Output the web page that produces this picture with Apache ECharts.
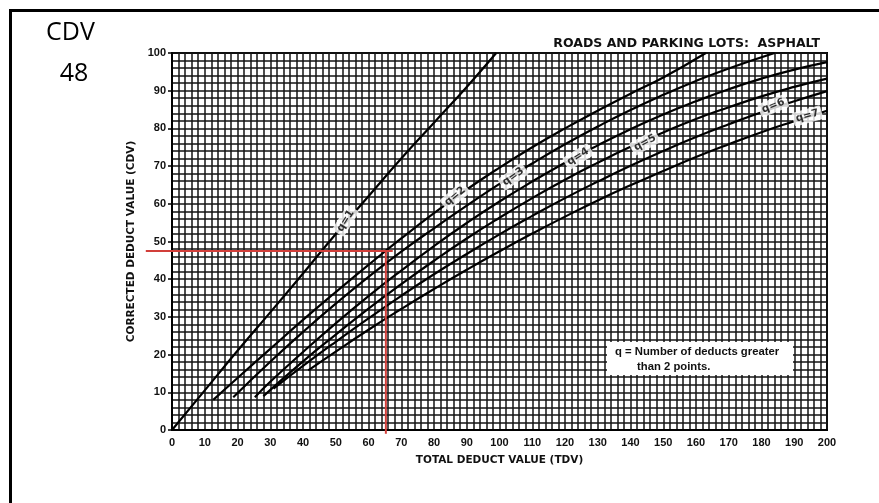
<!DOCTYPE html>
<html><head><meta charset="utf-8">
<script src="https://cdn.jsdelivr.net/npm/echarts@6/dist/echarts.min.js"></script>
<style>html,body{margin:0;padding:0;background:#fff}#c{width:879px;height:503px}</style>
</head><body><div id="c"></div>
<script>
// ---- data (TDV, CDV) ----
const curveNames = ['q=1','q=2','q=3','q=4','q=5','q=6','q=7'];
const q1 = [[0,0],[10,10.5],[20,21],[30,31.2],[40,41.5],[50,52],[60,62],[70,72],[80,81.5],[90,91],[99,100]];
const q2 = [[12.6,8],[20,13.8],[30,21.5],[40,29.2],[50,36.6],[60,43.8],[70,50.8],[80,57.5],[90,63.8],[100,69.6],[110,75],[120,80],[130,84.7],[140,89.2],[150,93.5],[163,100]];
const q3 = [[18.7,8.7],[30,18.1],[40,26],[50,33.5],[60,40.6],[70,47.3],[80,53.5],[90,59.5],[100,65.3],[110,70.7],[120,75.8],[130,80.5],[140,84.9],[150,88.9],[160,92.6],[170,95.9],[184,100]];
const q4 = [[25.3,8.7],[30,12.8],[40,20.7],[50,28.3],[60,35.5],[70,42.3],[80,48.8],[90,54.9],[100,60.6],[110,65.9],[120,70.9],[130,75.5],[140,79.8],[150,83.7],[160,87.2],[170,90.4],[180,93.2],[190,95.6],[200,97.6]];
const q5 = [[27.9,9],[40,18.2],[50,25.3],[60,32.2],[70,38.7],[80,44.9],[90,50.8],[100,56.3],[110,61.5],[120,66.4],[130,70.9],[140,75.1],[150,78.9],[160,82.5],[170,85.6],[180,88.5],[190,91],[200,93.2]];
const q6 = [[31,11],[40,17],[50,23.4],[60,29.6],[70,35.6],[80,41.3],[90,46.7],[100,51.9],[110,56.8],[120,61.5],[130,65.9],[140,70.1],[150,74],[160,77.7],[170,81.1],[180,84.3],[190,87.2],[200,89.9]];
const q7 = [[41.6,15.8],[50,20.8],[60,26.6],[70,32.1],[80,37.4],[90,42.5],[100,47.4],[110,52.1],[120,56.6],[130,60.9],[140,64.9],[150,68.7],[160,72.4],[170,75.8],[180,79],[190,81.9],[200,84.7]];
const curves = [q1,q2,q3,q4,q5,q6,q7];

// curve label anchors (TDV, CDV) and text angle
const labelTDV   = [53, 86.4, 104.2, 124, 144.4, 183.6, 194];
const labelCDV   = [55.5, 62, 67.2, 72.5, 76.2, 86, 83.3];
const labelAngle = [58, 40, 36, 32, 29, 22, 16];

// reading of the example: TDV 65 -> CDV 48
const readTDV = 65.3, readCDV = 47.5;
const redHFrom = -8, redHTo = 67.4, redVTo = -1;

// axis ticks
const tdvMin = 0, tdvMax = 200, tdvStep = 10;
const cdvMin = 0, cdvMax = 100, cdvStep = 10;

const titleText = 'ROADS AND PARKING LOTS:  ASPHALT';
const xName = 'TOTAL DEDUCT VALUE (TDV)';
const yName = 'CORRECTED DEDUCT VALUE (CDV)';
const noteLines = ['q = Number of deducts greater', 'than 2 points.'];
const cornerTop = 'CDV', cornerValue = '48';

const chart = echarts.init(document.getElementById('c'), null, {renderer:'canvas'});
const tickFont = {fontFamily:'Liberation Sans', fontWeight:'bold', fontSize:11, color:'#111'};
const gridLine = {show:true, lineStyle:{color:'#151515', width:1.5}};
const minorLine = {show:true, lineStyle:{color:'#151515', width:1.5}};

const series = curves.map((d,i)=>({
  name: curveNames[i], type:'line', data:d, smooth:true, showSymbol:false, symbol:'none',
  lineStyle:{color:'#000', width:2.2}, z:3, silent:true
}));
series.push({
  name:'labels', type:'scatter', symbolSize:0, z:5, silent:true,
  data: curveNames.map((n,i)=>({value:[labelTDV[i], labelCDV[i]], name:n,
    label:{rotate:labelAngle[i]}})),
  label:{show:true, position:'inside', formatter:p=>p.name, fontFamily:'DejaVu Sans', fontWeight:'bold',
    fontSize:10.5, color:'#000', backgroundColor:'#fff', padding:[2,3,1,3], borderRadius:2}
});
// red reading lines, positioned through the axis scales
const readSegments = [
  [[redHFrom, readCDV], [redHTo, readCDV]],
  [[readTDV, readCDV], [readTDV, redVTo]]
];
series.push({
  name:'reading', type:'custom', z:6, silent:true, clip:false,
  data: readSegments.map((s,i)=>[i]),
  renderItem:(params, api)=>{
    const seg = readSegments[params.dataIndex];
    const a = api.coord(seg[0]), b = api.coord(seg[1]);
    return {type:'line', shape:{x1:a[0], y1:a[1], x2:b[0], y2:b[1]},
      style:{stroke:'#d23f3a', lineWidth:2}};
  },
  encode:{x:-1, y:-1}
});

chart.setOption({
  animation:false,
  backgroundColor:'#fff',
  title:{text:titleText, right:54, top:32, textStyle:{fontFamily:'DejaVu Sans', fontWeight:'bold', fontSize:12.5, color:'#111'}},
  grid:{left:172, right:52, top:53, bottom:73, show:true, borderColor:'#000', borderWidth:2, backgroundColor:'transparent'},
  xAxis:{type:'value', min:tdvMin, max:tdvMax, interval:tdvStep,
    name:xName, nameLocation:'middle', nameGap:25,
    nameTextStyle:{fontFamily:'DejaVu Sans', fontWeight:'bold', fontSize:10.5, color:'#111'},
    axisLine:{show:true, lineStyle:{color:'#000', width:2}}, axisTick:{show:false},
    axisLabel:{...tickFont, margin:7},
    splitLine:gridLine, minorTick:{show:false, splitNumber:5}, minorSplitLine:minorLine},
  yAxis:{type:'value', min:cdvMin, max:cdvMax, interval:cdvStep,
    name:yName, nameLocation:'middle', nameGap:27,
    nameTextStyle:{fontFamily:'DejaVu Sans', fontWeight:'bold', fontSize:10.5, color:'#111'},
    axisLine:{show:true, lineStyle:{color:'#000', width:2}},
    axisTick:{show:true, length:4, lineStyle:{color:'#000', width:1.5}},
    axisLabel:{...tickFont, margin:6},
    splitLine:gridLine, minorTick:{show:false, splitNumber:5}, minorSplitLine:minorLine},
  graphic:[
    {type:'line', shape:{x1:9, y1:10.5, x2:879, y2:10.5}, style:{stroke:'#000', lineWidth:3}},
    {type:'line', shape:{x1:10.5, y1:9, x2:10.5, y2:503}, style:{stroke:'#000', lineWidth:3}},
    {type:'text', x:70.5, y:33, style:{text:cornerTop, font:'25px "Open Sans"', fill:'#000', align:'center', verticalAlign:'middle'}},
    {type:'text', x:74, y:74, style:{text:cornerValue, font:'25px "Open Sans"', fill:'#000', align:'center', verticalAlign:'middle'}},
    {type:'rect', z:10, shape:{x:607, y:342, width:186, height:33}, style:{fill:'#fff'}},
    {type:'text', z:11, x:615, y:352, style:{text:noteLines[0], font:'bold 11.3px "Liberation Sans"', fill:'#111', verticalAlign:'middle'}},
    {type:'text', z:11, x:637, y:367, style:{text:noteLines[1], font:'bold 11.3px "Liberation Sans"', fill:'#111', verticalAlign:'middle'}}
  ],
  series
});
</script></body></html>
